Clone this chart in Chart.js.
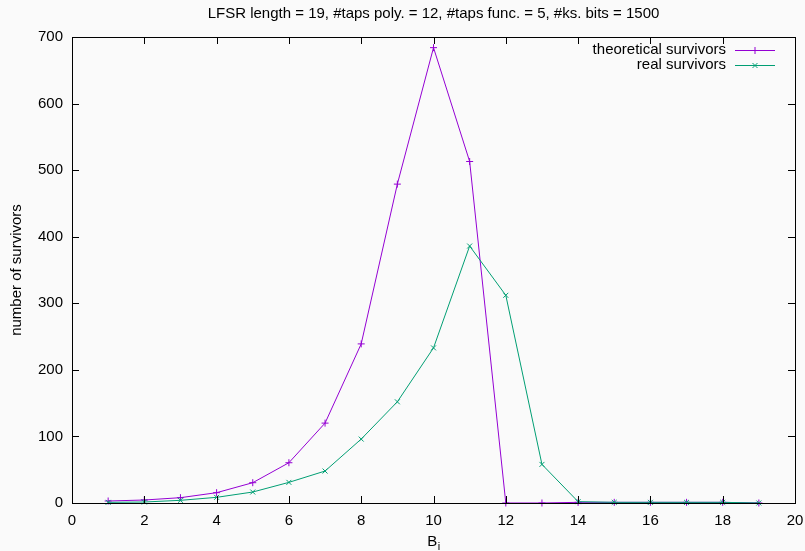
<!DOCTYPE html>
<html>
<head>
<meta charset="utf-8">
<script src="https://cdn.jsdelivr.net/npm/chart.js@4"></script>
<style>
  html, body { margin: 0; padding: 0; background: #fafafa; }
  #wrap { width: 805px; height: 551px; }
</style>
</head>
<body>
<div id="wrap"><canvas id="grafico" width="805" height="551"></canvas></div>
<script>
// dados
const bValues = [1, 2, 3, 4, 5, 6, 7, 8, 9, 10, 11, 12, 13, 14, 15, 16, 17, 18, 19];
const theoretical = [3, 4.5, 8, 15.5, 30.5, 60.5, 120, 239, 479, 684, 513, 0, 0, 1, 1, 1, 1, 1, 0];
const real = [1, 1.5, 4, 8.5, 16.5, 31, 48, 96, 152, 233, 386, 312, 58, 2, 1, 1, 1, 1, 0];
const xTicks = [0, 2, 4, 6, 8, 10, 12, 14, 16, 18, 20];
const yTicks = [0, 100, 200, 300, 400, 500, 600, 700];
const titulo = 'LFSR length = 19, #taps poly. = 12, #taps func. = 5, #ks. bits = 1500';

const FONT = '"Liberation Sans", Arial, sans-serif';
const PURPLE = '#9400d3';
const GREEN = '#009e73';

const toPoints = (arr) => bValues.map((b, i) => ({ x: b, y: arr[i] }));

// moldura, ticks para dentro, legenda, titulo e titulo do eixo x
const gnuplotFrame = {
  id: 'gnuplotFrame',
  afterDatasetsDraw(chart) {
    const { ctx, chartArea: a, scales } = chart;
    const tl = 7;
    ctx.save();
    ctx.strokeStyle = '#000';
    ctx.lineWidth = 1;
    ctx.beginPath();
    xTicks.forEach(v => {
      const px = Math.round(scales.x.getPixelForValue(v)) + 0.5;
      ctx.moveTo(px, a.bottom); ctx.lineTo(px, a.bottom - tl);
      ctx.moveTo(px, a.top); ctx.lineTo(px, a.top + tl);
    });
    yTicks.forEach(v => {
      const py = Math.round(scales.y.getPixelForValue(v)) + 0.5;
      ctx.moveTo(a.left, py); ctx.lineTo(a.left + tl, py);
      ctx.moveTo(a.right, py); ctx.lineTo(a.right - tl, py);
    });
    ctx.stroke();
    ctx.strokeRect(Math.round(a.left) + 0.5, Math.round(a.top) + 0.5,
                   Math.round(a.right - a.left), Math.round(a.bottom - a.top));

    const cx = (a.left + a.right) / 2;

    // titulo
    ctx.font = '15px ' + FONT;
    ctx.fillStyle = '#000';
    ctx.textAlign = 'center';
    ctx.textBaseline = 'middle';
    ctx.fillText(titulo, cx, 14);

    // legenda
    ctx.textAlign = 'right';
    const items = [
      { label: 'theoretical survivors', color: PURPLE, style: 'cross', y: 50 },
      { label: 'real survivors', color: GREEN, style: 'crossRot', y: 65 }
    ];
    items.forEach(it => {
      ctx.fillStyle = '#000';
      ctx.fillText(it.label, 726, it.y);
      ctx.strokeStyle = it.color;
      ctx.lineWidth = 1;
      ctx.beginPath();
      ctx.moveTo(735, it.y + 0.5); ctx.lineTo(775, it.y + 0.5);
      ctx.stroke();
      Chart.helpers.drawPoint(ctx, { pointStyle: it.style, radius: 3.5, borderWidth: 1 }, 755, it.y + 0.5);
    });

    // titulo do eixo x: B com subscrito i
    ctx.fillStyle = '#000';
    ctx.textAlign = 'left';
    ctx.textBaseline = 'alphabetic';
    ctx.font = '15px ' + FONT;
    const wB = ctx.measureText('B').width;
    ctx.font = '11px ' + FONT;
    const wi = ctx.measureText('i').width;
    const x0 = cx - (wB + wi) / 2;
    ctx.font = '15px ' + FONT;
    ctx.fillText('B', x0, 546);
    ctx.font = '11px ' + FONT;
    ctx.fillText('i', x0 + wB + 0.5, 550);
    ctx.restore();
  }
};

const ctx = document.getElementById('grafico').getContext('2d');
new Chart(ctx, {
  type: 'line',
  data: {
    datasets: [
      {
        label: 'theoretical survivors',
        data: toPoints(theoretical),
        borderColor: PURPLE,
        backgroundColor: PURPLE,
        borderWidth: 1,
        pointStyle: 'cross',
        pointRadius: 3.5,
        pointBorderWidth: 1,
        tension: 0,
        order: 2
      },
      {
        label: 'real survivors',
        data: toPoints(real),
        borderColor: GREEN,
        backgroundColor: GREEN,
        borderWidth: 1,
        pointStyle: 'crossRot',
        pointRadius: 3.5,
        pointBorderWidth: 1,
        tension: 0,
        order: 1
      }
    ]
  },
  options: {
    responsive: false,
    animation: false,
    clip: false,
    layout: { padding: { top: 37, right: 10 } },
    plugins: {
      legend: { display: false },
      tooltip: { enabled: false },
      title: { display: false }
    },
    scales: {
      x: {
        type: 'linear',
        min: 0,
        max: 20,
        afterBuildTicks: (s) => { s.ticks = xTicks.map(v => ({ value: v })); },
        afterFit: (s) => { s.height = 48; s.paddingLeft = 0; s.paddingRight = 0; },
        grid: { display: false, drawTicks: false },
        border: { display: false },
        ticks: {
          color: '#000',
          padding: 9,
          maxRotation: 0,
          font: { family: FONT, size: 15 }
        }
      },
      y: {
        min: 0,
        max: 700,
        afterBuildTicks: (s) => { s.ticks = yTicks.map(v => ({ value: v })); },
        afterFit: (s) => { s.width = 72; s.paddingTop = 0; s.paddingBottom = 0; },
        grid: { display: false, drawTicks: false },
        border: { display: false },
        title: {
          display: true,
          text: 'number of survivors',
          color: '#000',
          font: { family: FONT, size: 15 },
          padding: { top: 8, bottom: 0 }
        },
        ticks: {
          color: '#000',
          padding: 9,
          font: { family: FONT, size: 15 }
        }
      }
    }
  },
  plugins: [gnuplotFrame]
});
</script>
</body>
</html>
